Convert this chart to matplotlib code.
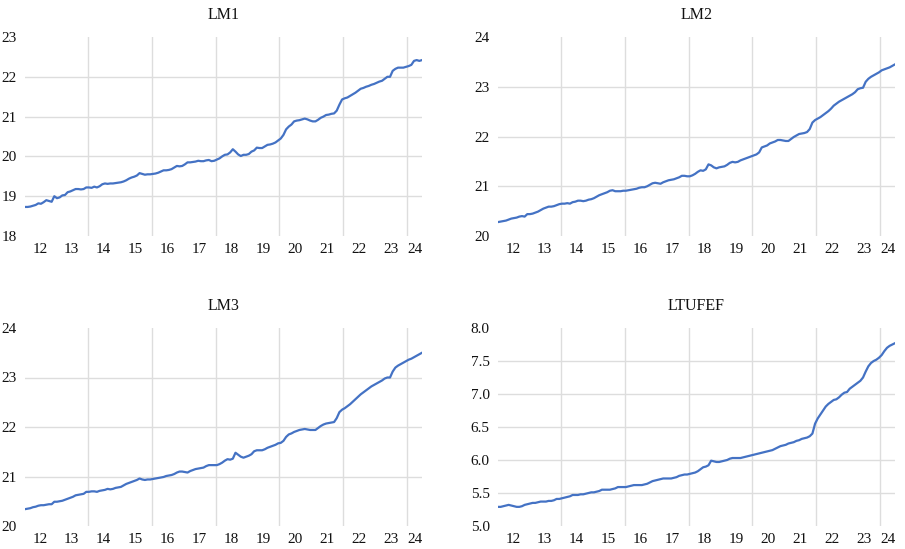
import numpy as np
import matplotlib
matplotlib.use('Agg')
import matplotlib.pyplot as plt
from matplotlib.ticker import FormatStrFormatter

plt.rcParams['font.family'] = ['Liberation Serif', 'DejaVu Serif']

# monthly observations, 2012M01 .. 2024M06
start_year = 2012
n_obs = 150

lm1 = [18.73, 18.73, 18.74, 18.76, 18.78, 18.82, 18.81, 18.85, 18.90, 18.88, 18.86, 19.00,
       18.95, 18.97, 19.02, 19.03, 19.10, 19.12, 19.15, 19.18, 19.18, 19.17, 19.18, 19.22,
       19.22, 19.21, 19.24, 19.22, 19.25, 19.30, 19.32, 19.31, 19.32, 19.32, 19.33, 19.34,
       19.35, 19.37, 19.40, 19.44, 19.47, 19.49, 19.52, 19.58, 19.56, 19.54, 19.55, 19.55,
       19.56, 19.57, 19.59, 19.62, 19.65, 19.65, 19.66, 19.68, 19.72, 19.76, 19.75, 19.76,
       19.80, 19.85, 19.85, 19.86, 19.87, 19.89, 19.88, 19.88, 19.90, 19.91, 19.88, 19.89,
       19.92, 19.95, 20.00, 20.04, 20.05, 20.10, 20.18, 20.12, 20.05, 20.01, 20.04, 20.04,
       20.06, 20.12, 20.15, 20.22, 20.21, 20.21, 20.25, 20.29, 20.30, 20.32, 20.35, 20.40,
       20.45, 20.54, 20.68, 20.75, 20.80, 20.88, 20.90, 20.91, 20.93, 20.95, 20.93, 20.90,
       20.88, 20.88, 20.92, 20.97, 21.00, 21.04, 21.05, 21.07, 21.08, 21.15, 21.30, 21.43,
       21.46, 21.48, 21.52, 21.56, 21.60, 21.65, 21.70, 21.72, 21.75, 21.77, 21.80, 21.82,
       21.85, 21.88, 21.90, 21.95, 22.00, 22.00, 22.15, 22.20, 22.23, 22.23, 22.23, 22.25,
       22.27, 22.30, 22.40, 22.42, 22.40, 22.42]

lm2 = [20.28, 20.29, 20.30, 20.31, 20.33, 20.35, 20.36, 20.37, 20.39, 20.40, 20.39, 20.44,
       20.44, 20.45, 20.47, 20.49, 20.52, 20.55, 20.57, 20.59, 20.59, 20.60, 20.62, 20.64,
       20.65, 20.65, 20.66, 20.65, 20.68, 20.69, 20.71, 20.71, 20.70, 20.71, 20.73, 20.74,
       20.76, 20.79, 20.82, 20.84, 20.86, 20.88, 20.91, 20.92, 20.90, 20.90, 20.90, 20.91,
       20.91, 20.92, 20.93, 20.94, 20.95, 20.97, 20.98, 20.98, 21.00, 21.03, 21.06, 21.07,
       21.06, 21.05, 21.08, 21.10, 21.12, 21.13, 21.14, 21.16, 21.18, 21.21, 21.21, 21.20,
       21.20, 21.22, 21.25, 21.29, 21.32, 21.31, 21.34, 21.44, 21.42, 21.38, 21.36, 21.38,
       21.39, 21.40, 21.43, 21.47, 21.49, 21.48, 21.49, 21.52, 21.54, 21.56, 21.58, 21.60,
       21.62, 21.64, 21.68, 21.78, 21.80, 21.82, 21.86, 21.88, 21.90, 21.93, 21.93, 21.92,
       21.91, 21.91, 21.95, 21.99, 22.02, 22.05, 22.06, 22.07, 22.09, 22.15, 22.28, 22.33,
       22.36, 22.39, 22.43, 22.47, 22.51, 22.56, 22.62, 22.66, 22.70, 22.73, 22.76, 22.79,
       22.82, 22.85, 22.89, 22.95, 22.97, 22.98, 23.10, 23.16, 23.20, 23.23, 23.26, 23.29,
       23.33, 23.35, 23.37, 23.39, 23.42, 23.45]

lm3 = [20.34, 20.35, 20.36, 20.38, 20.39, 20.41, 20.42, 20.42, 20.43, 20.44, 20.44, 20.49,
       20.49, 20.50, 20.51, 20.53, 20.55, 20.57, 20.59, 20.62, 20.63, 20.64, 20.65, 20.69,
       20.69, 20.70, 20.70, 20.69, 20.71, 20.72, 20.73, 20.75, 20.74, 20.75, 20.77, 20.78,
       20.79, 20.82, 20.85, 20.87, 20.89, 20.91, 20.93, 20.96, 20.94, 20.93, 20.94, 20.94,
       20.95, 20.96, 20.97, 20.98, 20.99, 21.01, 21.02, 21.03, 21.05, 21.08, 21.10, 21.10,
       21.09, 21.08, 21.11, 21.13, 21.15, 21.16, 21.17, 21.18, 21.21, 21.23, 21.23, 21.23,
       21.23, 21.25, 21.28, 21.32, 21.35, 21.34, 21.36, 21.48, 21.44, 21.40, 21.38, 21.40,
       21.42, 21.45, 21.51, 21.53, 21.53, 21.53, 21.55, 21.58, 21.60, 21.62, 21.64, 21.67,
       21.68, 21.72, 21.80, 21.85, 21.87, 21.90, 21.92, 21.94, 21.95, 21.96, 21.95, 21.94,
       21.94, 21.94, 21.98, 22.02, 22.05, 22.07, 22.08, 22.09, 22.10, 22.18, 22.30, 22.35,
       22.38, 22.42, 22.46, 22.51, 22.56, 22.61, 22.66, 22.70, 22.74, 22.78, 22.82, 22.85,
       22.88, 22.91, 22.94, 22.98, 23.00, 23.00, 23.12, 23.20, 23.24, 23.27, 23.30, 23.33,
       23.36, 23.38, 23.41, 23.44, 23.47, 23.50]

ltufef = [5.29, 5.29, 5.30, 5.31, 5.32, 5.31, 5.30, 5.29, 5.29, 5.30, 5.32, 5.33,
          5.34, 5.35, 5.35, 5.36, 5.37, 5.37, 5.37, 5.38, 5.38, 5.39, 5.41, 5.41,
          5.42, 5.43, 5.44, 5.45, 5.47, 5.47, 5.47, 5.48, 5.48, 5.49, 5.50, 5.51,
          5.51, 5.52, 5.53, 5.55, 5.55, 5.55, 5.55, 5.56, 5.57, 5.59, 5.59, 5.59,
          5.59, 5.60, 5.61, 5.62, 5.62, 5.62, 5.62, 5.63, 5.64, 5.66, 5.68, 5.69,
          5.70, 5.71, 5.72, 5.72, 5.72, 5.72, 5.73, 5.74, 5.76, 5.77, 5.78, 5.78,
          5.79, 5.80, 5.81, 5.83, 5.86, 5.89, 5.90, 5.92, 5.99, 5.98, 5.97, 5.97,
          5.98, 5.99, 6.00, 6.02, 6.03, 6.03, 6.03, 6.03, 6.04, 6.05, 6.06, 6.07,
          6.08, 6.09, 6.10, 6.11, 6.12, 6.13, 6.14, 6.15, 6.17, 6.19, 6.21, 6.22,
          6.23, 6.25, 6.26, 6.27, 6.29, 6.30, 6.32, 6.33, 6.34, 6.36, 6.40, 6.55,
          6.63, 6.69, 6.75, 6.81, 6.85, 6.88, 6.91, 6.92, 6.95, 6.99, 7.02, 7.03,
          7.08, 7.11, 7.14, 7.17, 7.20, 7.25, 7.34, 7.42, 7.47, 7.50, 7.52, 7.55,
          7.59, 7.65, 7.70, 7.73, 7.75, 7.77]

titles = ['LM1', 'LM2', 'LM3', 'LTUFEF']
series = [lm1, lm2, lm3, ltufef]
ylims = [(18, 23), (20, 24), (20, 24), (5.0, 8.0)]
ysteps = [1, 1, 1, 0.5]
yfmt = ['%d', '%d', '%d', '%.1f']
year_labels = ['12', '13', '14', '15', '16', '17', '18', '19', '20', '21', '22', '23', '24']

line_col = '#4472C4'
grid_col = '#DDDDDD'
text_col = '#111111'

# mid-month positions in decimal years
t = start_year + (np.arange(n_obs) + 0.5) / 12
x0, x1 = t[0], t[-1]

# axes boxes in pixels (left, top, right, bottom)
W, H = 905, 549
boxes = [(25, 37, 422, 236), (498, 37, 895, 236),
         (25, 328, 422, 526), (498, 328, 895, 526)]

fig = plt.figure(figsize=(W / 100, H / 100), dpi=100)

for k in range(4):
    l, tp, r, b = boxes[k]
    ax = fig.add_axes([l / W, 1 - b / H, (r - l) / W, (b - tp) / H])
    ax.plot(t, series[k], color=line_col, lw=1.6, zorder=3)
    ax.set_xlim(x0, x1)
    lo, hi = ylims[k]
    ax.set_ylim(lo, hi)

    # horizontal grid at inner y ticks only
    yt = np.arange(lo, hi + 1e-9, ysteps[k])
    ax.set_yticks(yt)
    ax.yaxis.set_major_formatter(FormatStrFormatter(yfmt[k]))
    for y in yt[1:-1]:
        ax.axhline(y, color=grid_col, lw=1.0, zorder=1)

    # vertical grid every second year
    for yr in range(2014, 2025, 2):
        ax.axvline(yr, color=grid_col, lw=1.0, zorder=1)

    # year labels centred on visible part of each year
    centers = []
    for i, lab in enumerate(year_labels):
        a = max(start_year + i, x0)
        c = min(start_year + i + 1, x1)
        centers.append((a + c) / 2)
    ax.set_xticks(centers)
    ax.set_xticklabels(year_labels)

    ax.tick_params(axis='both', length=0, labelsize=11, colors=text_col)
    ax.tick_params(axis='x', pad=5)
    ax.tick_params(axis='y', pad=6)
    for s in ax.spines.values():
        s.set_visible(False)
    ax.set_title(titles[k], fontsize=11.5, pad=13, color=text_col)

fig.savefig('out.png', dpi=100)
